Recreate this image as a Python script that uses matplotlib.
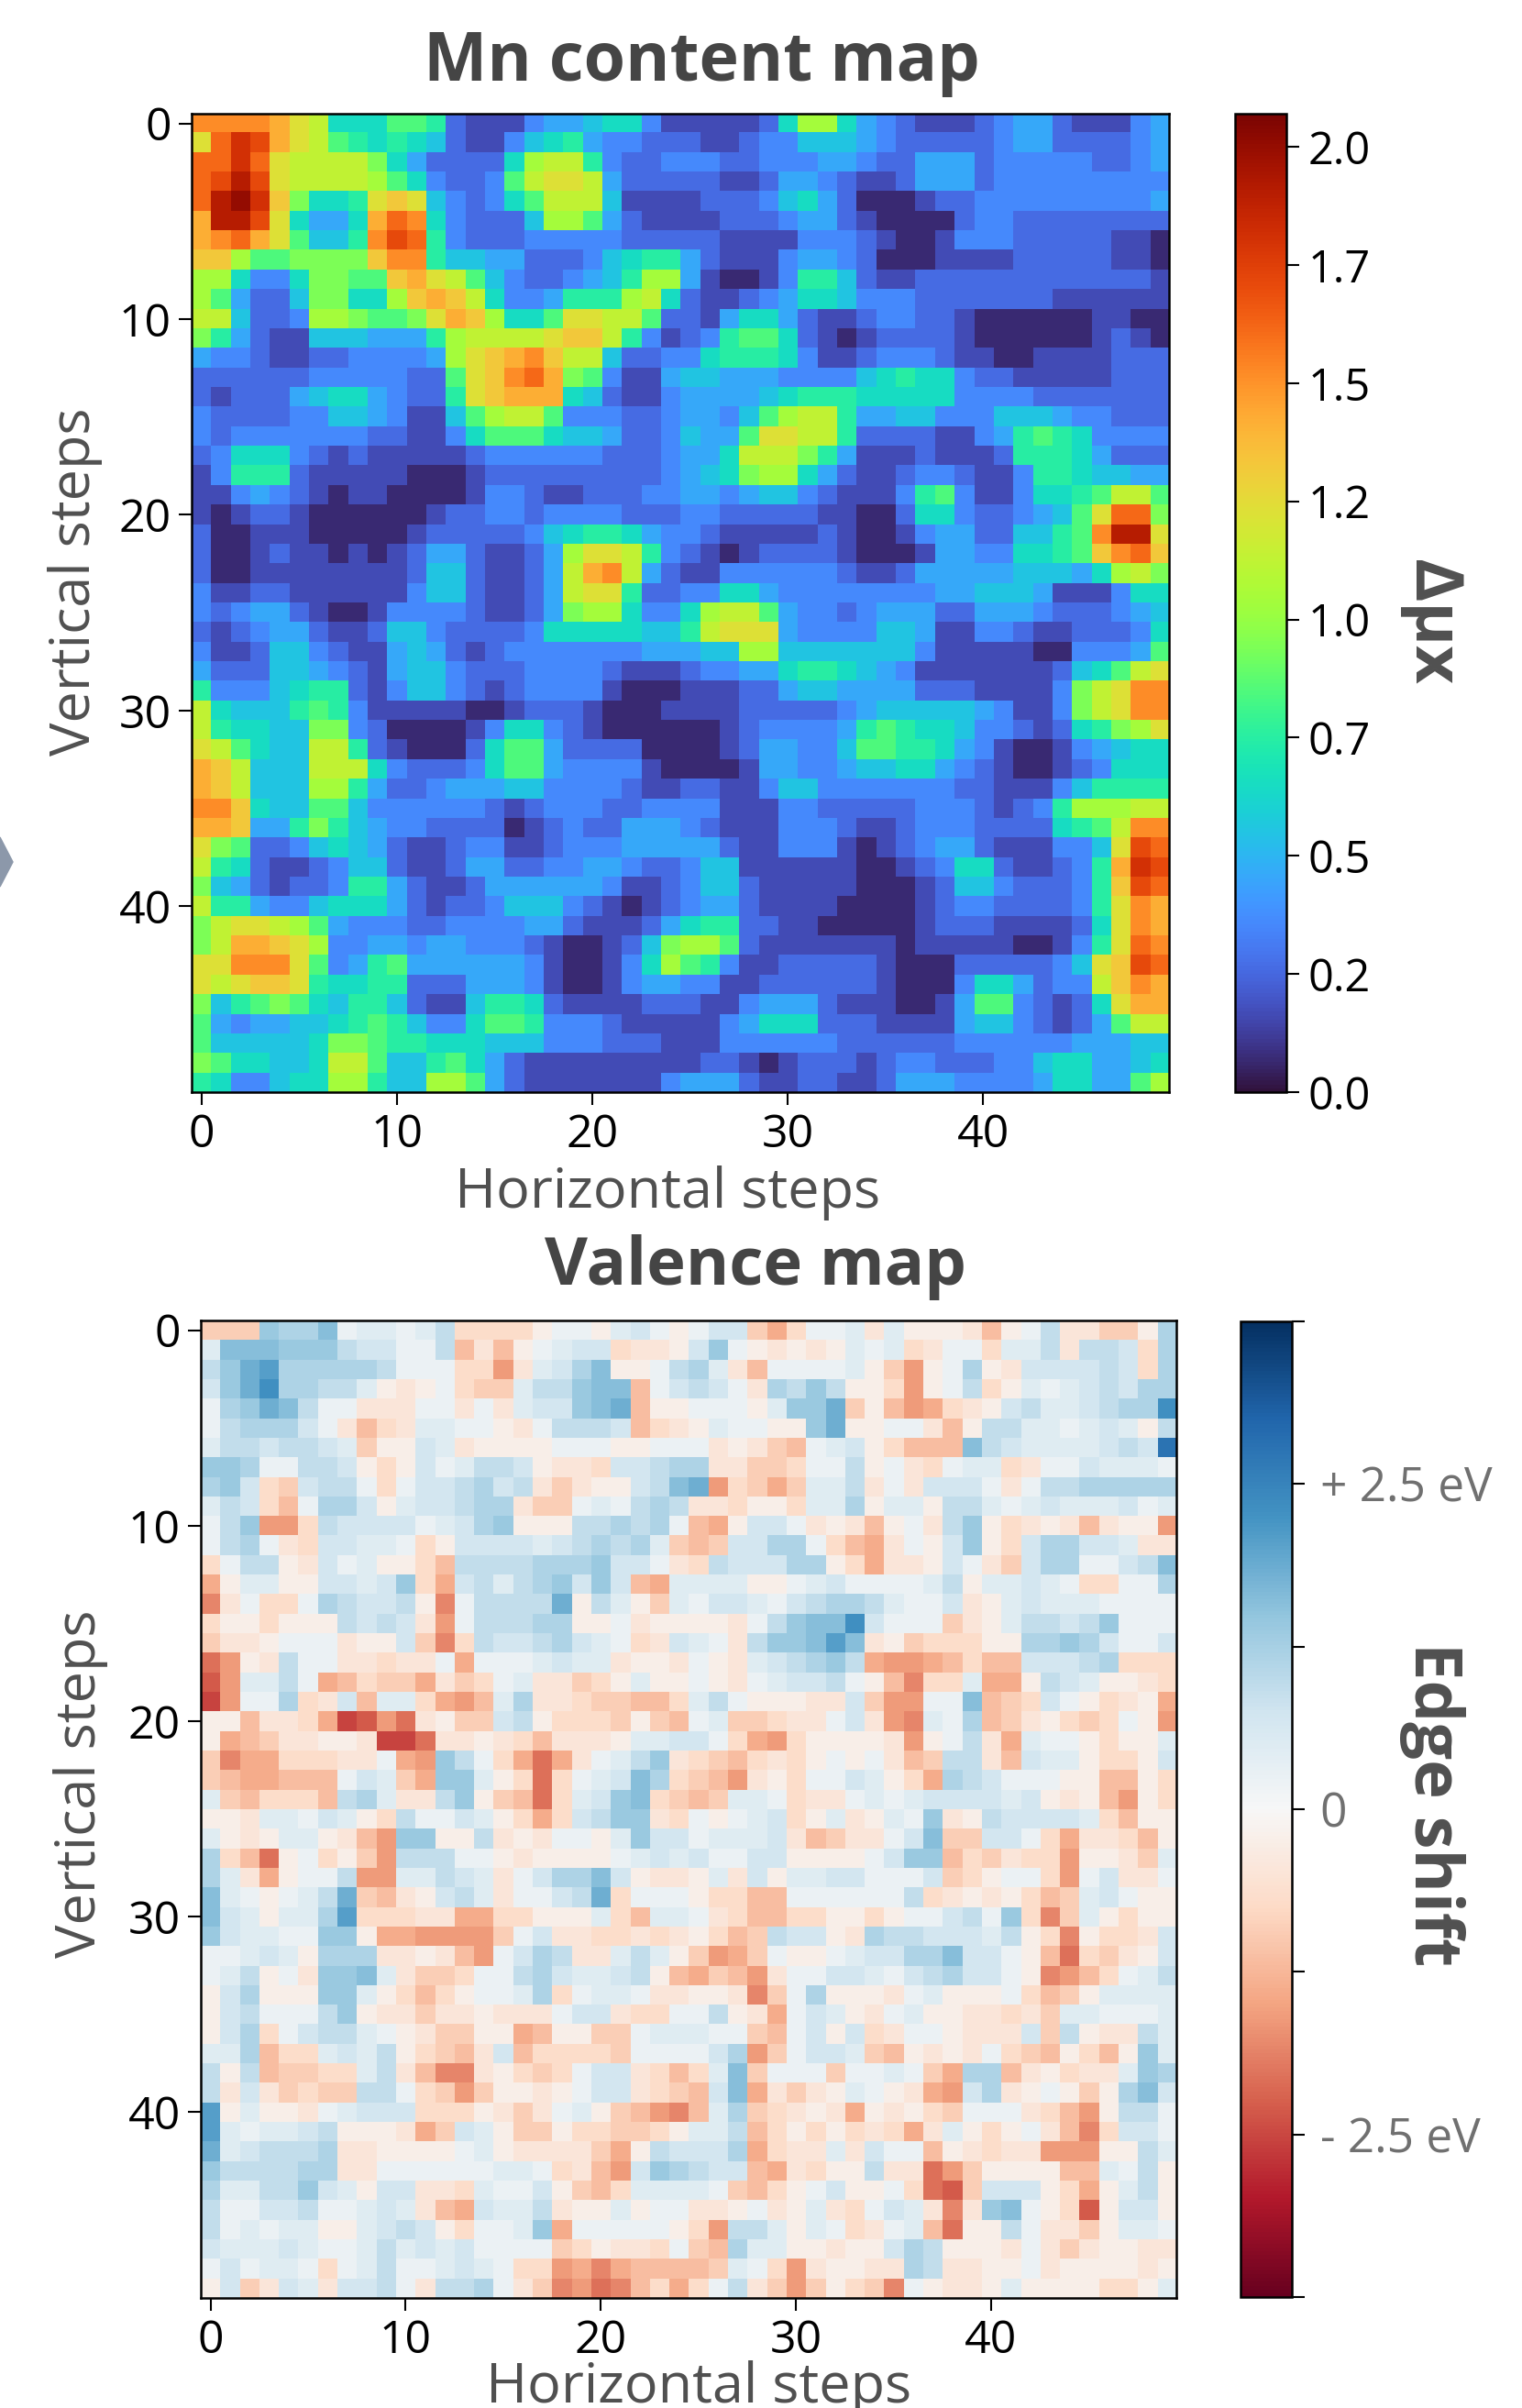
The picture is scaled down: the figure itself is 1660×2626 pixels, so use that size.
import matplotlib
matplotlib.use('Agg')
import matplotlib.pyplot as plt
from matplotlib.patches import Polygon
import numpy as np

# Mn map, one string per row: base 36 digit = tenths of delta mu x
mn_rows = [
    "ffffe cb666 88721 11344 56631 11112 6aa64 32111 23442 11134",
    "cgihe cb876 76521 13567 43322 21123 35554 32222 23442 22234",
    "ggigc bbbb9 64222 26abb 73223 33223 33443 22444 23333 32234",
    "ghjhc bbbba 86322 38bcc b4222 22112 44321 12444 23333 33333",
    "gjkid 9667c dc532 368bb b5111 12223 56420 00122 33333 33334",
    "ejjhc 6446e gf632 225aa 84211 11222 34421 00002 33222 22222",
    "efgec 8557f hg732 22333 33222 22111 13332 10013 33222 22110",
    "dda88 9999d ff755 44222 35677 42111 34432 00011 11222 22110",
    "aa633 69988 decb8 53223 457aa 41001 37752 11222 22222 22221",
    "a8422 59966 adedb 63347 77ab6 21123 46653 33222 22221 11111",
    "bb522 3aa98 89ced a668c cbb82 21466 42112 33221 00000 01100",
    "97421 15554 447ab bbbcd db731 23788 62101 22221 00000 01210",
    "43321 12233 334ac defdb b5223 36777 63112 33321 10011 11222",
    "22222 23333 3228c dfge9 83114 55444 33335 67663 22111 11222",
    "21222 45664 3227c deee6 52113 44445 67776 66663 33322 22222",
    "32222 33554 31158 abb83 33223 44358 abb74 45533 35554 33222",
    "32333 33332 21136 88865 54223 5448c cbb72 22211 34787 63333",
    "23666 32121 11112 33333 32223 446bb b9741 11211 12777 64222",
    "13777 21111 10001 22222 22223 4569a a6421 12332 11377 65544",
    "11343 21011 00001 33211 22233 44345 53211 13783 11366 78bb8",
    "10122 10000 00122 33233 33222 33222 22110 02663 22345 8cgg9",
    "20011 10000 01222 22356 77643 32111 11210 01344 22557 8fjjc",
    "20012 11010 12442 1124a ccb73 21012 22210 00144 33667 8dfgd",
    "20011 11111 12552 1124b efb42 11333 33321 12444 44555 46ab9",
    "31122 11111 13552 1124b cc722 33664 33333 33344 55541 11366",
    "32344 21001 33332 11249 aa633 6abb8 43323 44422 44432 22345",
    "21234 42112 55322 22366 66655 7bccc 43333 55411 33211 22236",
    "31125 53211 45421 23333 33344 455aa 55555 55311 11100 33348",
    "42225 54321 45532 22333 32111 23344 67765 43111 11112 568bc",
    "73335 67721 35532 12333 31000 11122 45544 44222 11113 9bcff",
    "b6555 78731 11110 01222 10001 11122 22234 55555 43113 9bcff",
    "b7665 59932 00001 36632 10000 00123 33347 87665 33212 679ac",
    "cb865 5bb72 10002 68842 22200 00124 43358 87764 31001 34566",
    "edb55 5bbb6 32223 68843 33310 00014 43345 56643 21001 23666",
    "edb55 5aa74 22344 45533 33211 22113 55333 33332 21113 57777",
    "ffd65 58853 33333 21233 32233 33111 33222 22333 21237 aaabb",
    "eed44 79754 33222 20123 22444 32111 33321 12333 22226 78bff",
    "c9822 35654 21123 31123 33444 44211 33310 12344 21113 35chg",
    "b7621 12355 21124 42233 44322 35511 11110 01236 62112 37eih",
    "95421 22377 42112 44444 43112 35521 11110 00125 53222 37dhg",
    "b7743 35666 42122 35553 21012 34421 11100 00123 32222 37cfe",
    "9bccb a8433 32233 33442 11124 67722 11000 00122 21111 26cfe",
    "9beed ca334 43443 33210 01259 aa821 11111 10111 11001 37cgf",
    "ccfff c8347 84444 44310 0136a 87311 22222 10002 22223 5cdhg",
    "cbcdd c7667 72224 44310 01344 33112 22222 10003 66423 3bdfe",
    "95789 86577 52115 77621 11122 21134 44211 10014 88321 26cee",
    "84344 55678 75336 88733 32111 11346 66222 11114 55321 248bb",
    "85555 56998 77666 55533 32221 11333 33322 22223 33333 44455",
    "98665 56bb8 55786 42111 11111 12210 12221 23322 23356 64456",
    "76335 66aa7 55aa8 42111 11113 44421 12211 24443 33346 6448a",
]

# valence map: a..l = -0.23 eV steps, A..L = +0.23 eV steps
edge_rows = [
    "dddFE EGABB ABDcc ccaAA aBCAa ACCdf cAABb Baaab eaADb bddaE",
    "BGGGF FFDCC AADeb eaABC Ccbba CFAab abaBA BcbAA cBBDb DDCcE",
    "DFHIE EEEED AAAcc gbBCE GaaAD EBbeA AAABa dgaAE abCCC CDCcE",
    "CFHJE EDDBa baAcd dBDDF GGeAC DCAbE DFDaa cgaAD caBAB CDCEE",
    "AEFHG DAAbb bAAbA bBCCF GHeaa AAAaB FFHda egfcb aCDBB CDEEJ",
    "ADEEE CAbec bBBAA abADD DCecb aBAAa aFHaa AAbea DDBBA BCBaD",
    "BDDCD DCBda aCBba aaaAA AaaAA Ababd eABCa ceeeG DCBBB BCDCL",
    "FFEAA DDCac aCABD DCabb cCCDE Ebbdd cAADa AbcAB BcbAA CBBBA",
    "EFCcd CDDAc ACCDE CDbdb aaCDG Hgcdf dBBDb AbCCC AbADD EEEEE",
    "BDCce AEECa BCCDE EbddA BADED bbcaa cBBEa BBaDD BABCB BBCAB",
    "ADFgg cDCCC CABCE FaaaD DEDEA efaCC Ababe aAbDF acbab ebaag",
    "ADEAb cCCBB AcaCC CCBCD EDEBd edCCE EAcef bAaCF acCEE CCBbb",
    "cADDa bCABa aceDD DDEEE FCCAb cDCCC EEacf bbaCA bdCEE AACDG",
    "faBBa aCCBC FcfCD BDEFC FCefB BBBaa ABCAA AABDa BBCBA ccAAE",
    "hbAcc AEDCC DahAD DDDHa DBadB ACCBA CDEED BAACb aBCBB BAAAA",
    "caaca aaDCD CbgAD DDEEa aAbaa aabAD FGGJC AAAdb aBDDC DFAAA",
    "dbbaA AAbaa CdhcD CCDEC BAcbC BAbDF FGIGb adccc aaEEF ECAAC",
    "igabD AAbbc bbAfA AABCB Bbaab AabBC DEFDf ggfec eeCCC DEccc",
    "jgBBD Afecd dfbdc ABbbd caBaa AabAB CCDAa ehccB ffaDC Baabc",
    "kgAAE cbCeB Bcfge BEbbc ddeec BDAaa abbCd ggAAG edcCA acbaf",
    "aaebb cfkjg ibadd CDacc cdade ABddc bbACb ghBAE edbac dcAag",
    "afedb baabk kibba bcebb baBBC CAcfg caaaa bgaAD bfBAA acaaB",
    "dhffc ccbbA fgFDA cfifb ABDFb cdecb caAaA bedDD beCBB accaC",
    "deffe eeACB dfFFB acicA BCGEc degba cAACB acfED CAAAa aeeac",
    "Bdecc ceDEB bbDFa deicB CFGcd edBBA cbbAB ABCCC CBCab aegac",
    "aabBB ACBac DAACB acfcC DFFbc AaABC caBba BAFba DCCCC Bceaa",
    "BabaB Babeg FFaaD babAA aBFCC ABBBC bedbb ACGdd CCAcf bbcea",
    "Eceia Acadg DDDAA abaaa aABCB CAACC aaaaA CFFec dbccg aabdB",
    "EBbfa AADgg BBDCB bACEE GCabb aBbCa BBCCA AACdc aAAcg ACbbA",
    "GBAaA BDHde baCDB bAACD HcAAA accee AAAAA ADcba baced BCAaa",
    "GCBaB BEIcc cbbff ccaaa BceBB Abcee ccaac aAACD AFchd Bacaa",
    "FCBBA AFFaf fgggg dACbb ccbcb acedD CCabE DDCCC BDach accbC",
    "AABCB aEEEb babeg ACEDb bBDBa dgfdA aaABC CEEGC CAaei cdbaC",
    "ABDaA bFFGB bddcA ADECB BCDae fdegb AACCB ACDEC CAahg ecABD",
    "aCEaa aFFBa cecaA ABEcA BBAbb aabhd AEaaa bABaa aAced aBBBB",
    "aCDAA ADFab bdbba bbbAC CbccA ADabf ACBab ABaab bcbdB BAAAB",
    "aCEcA CDDBA abdda afeaa ddABB BAAde ACaCc bAAab bbCdD abbDB",
    "BBEec cBCBD acdeb Ceccc cdAAA ACEgd ACCBd eabab Acdea ceaFB",
    "DaDed dccBD behhb acdcA CCbce cBGdA AAdAA BAdfE Eebac bbBFE",
    "DbCbd cddDD Acdgd aabaA CCbcd eCGfb dbaBA abfgC EbaAa daEGC",
    "IaBaa bABCC Cccca bdbAB adegh eBEdc babfa bacdA AAbce gaDDA",
    "IBABB CDaaa bfdCB addac cddca BBDec acacb cfbBa caAbe hcCCA",
    "HBCDD DEbba aaaAB abbbb dfaDC CCEfc bbBbC AAeab cbbgg gaaDB",
    "FDDDD EEbbA AAAAA BBAcb egCFE DCCef bcaaD bbigd aaaae eBADa",
    "EBBDD FCBaC CbbcB AACad ecBBB BAdec aACaa Acijd CCCac faBDa",
    "DAACC DAABC BbefC BBDba aBaAA bbaAb aBbcA CBbhb FGAac jaCCa",
    "DABAB BaaBC DCacA ABFfA AAAAa cgDDB aBAcb ABeia aDAbb daBBA",
    "CBBBC BAABD BCBCA AAAdc abbcA deEBB aabaa CEDaa abAbd baabb",
    "ACABB AcABD AABCB Accgf hfeee edBAc gbaab bEDbb aaAba aaaba",
    "aCdbC BbCCD AbDDE Abdhg ihecf cADbd gdacd hAabb aBaaa accaB",
]

map_ticks = [0, 10, 20, 30, 40]
mn_cbar_ticks = [0.0, 0.25, 0.5, 0.75, 1.0, 1.25, 1.5, 1.75, 2.0]
mn_cbar_labels = ['0.0', '0.2', '0.5', '0.7', '1.0', '1.2', '1.5', '1.7', '2.0']
edge_cbar_ticks = [-3.75, -2.5, -1.25, 0, 1.25, 2.5, 3.75]
edge_cbar_labels = ['', '- 2.5 eV', '', '0', '', '+ 2.5 eV', '']


def decode_mn(rows):
    # darkest cells in the picture still sit a little above zero
    return np.array([[0.07 + int(c, 36) * 0.0965 for c in r.replace(' ', '')] for r in rows])


def edge_value(c):
    if c.islower():
        return -0.23 * (ord(c) - 96)
    return 0.23 * (ord(c) - 64)


def decode_edge(rows):
    return np.array([[edge_value(c) for c in r.replace(' ', '')] for r in rows])


W, H = 1660, 2626
plt.rcParams['font.family'] = ['Open Sans', 'DejaVu Sans']
fig = plt.figure(figsize=(W / 100, H / 100), dpi=100)


def box(x0, y0, x1, y1):
    return [x0 / W, 1 - y1 / H, (x1 - x0) / W, (y1 - y0) / H]


def put(x, y, s, **kw):
    fig.text(x / W, 1 - y / H, s, ha='center', va='center', **kw)


def draw_map(pos, cpos, data, cmap, vmin, vmax):
    ax = fig.add_axes(box(*pos))
    im = ax.imshow(data, cmap=cmap, vmin=vmin, vmax=vmax, aspect='auto', interpolation='nearest')
    ax.set_xticks(map_ticks)
    ax.set_yticks(map_ticks)
    ax.tick_params(labelsize=36, length=10, width=1.5, pad=6)
    for s in ax.spines.values():
        s.set_linewidth(1.8)
    cax = fig.add_axes(box(*cpos))
    cb = fig.colorbar(im, cax=cax)
    cb.outline.set_linewidth(1.8)
    cax.tick_params(labelsize=35, length=10, width=1.5, pad=7)
    return cb


cb1 = draw_map((209, 124, 1275, 1191), (1347, 124, 1403, 1191), decode_mn(mn_rows), 'turbo', 0, 2.07)
cb1.set_ticks(mn_cbar_ticks, labels=mn_cbar_labels)

cb2 = draw_map((219, 1440, 1283, 2506), (1353, 1441, 1409, 2505), decode_edge(edge_rows), 'RdBu', -3.75, 3.75)
cb2.set_ticks(edge_cbar_ticks, labels=edge_cbar_labels)
cb2.ax.tick_params(labelcolor='#707070', labelsize=37, pad=12)

grey = '#454545'
put(765, 69, 'Mn content map', fontsize=53, fontweight='bold', color=grey)
put(824, 1382, 'Valence map', fontsize=52, fontweight='bold', color=grey)
put(728, 1301, 'Horizontal steps', fontsize=44, color='#505050')
put(762, 2604, 'Horizontal steps', fontsize=44, color='#505050')
put(82, 634, 'Vertical steps', fontsize=44, color='#505050', rotation=90)
put(88, 1945, 'Vertical steps', fontsize=44, color='#505050', rotation=90)
put(1561, 678, 'Δμx', fontsize=52, fontweight='bold', color='#505050', rotation=270)
put(1562, 1968, 'Edge shift', fontsize=52, fontweight='bold', color='#505050', rotation=270)

# the bit of arrow cut off at the left edge
fig.add_artist(Polygon([(0, 1 - 913 / H), (14 / W, 1 - 940 / H), (0, 1 - 967 / H)],
                       transform=fig.transFigure, color='#8c98aa'))

fig.savefig('out.png', dpi=100)
